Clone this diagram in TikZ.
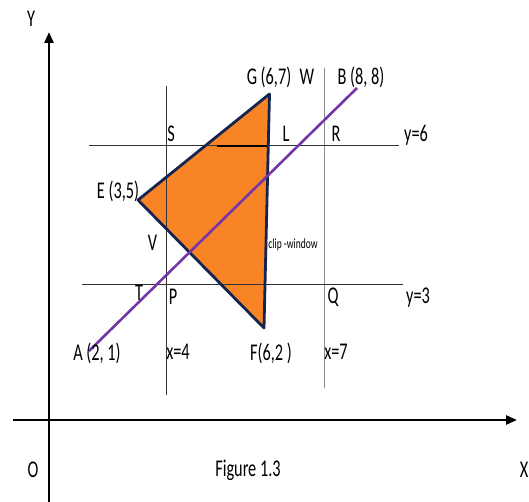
\documentclass[tikz,border=0pt]{standalone}
\usepackage{fontspec}
\setmainfont{Carlito}[FakeStretch=0.68]
\usetikzlibrary{arrows.meta}
\definecolor{triorange}{HTML}{F98425}
\definecolor{trinavy}{HTML}{15244F}
\definecolor{linepurple}{HTML}{7436A8}
\definecolor{lightgray}{HTML}{8C8C8C}
\tikzset{
  x=1pt, y=-1pt,
  axis/.style={line width=2.6pt, -{Triangle[length=11pt,width=9pt]}},
  gridline/.style={line width=1pt, black!80},
  lbl/.style={font=\fontsize{24}{24}\selectfont, inner sep=0pt},
  small/.style={font=\fontsize{14}{14}\selectfont, inner sep=0pt},
}
\begin{document}
\begin{tikzpicture}
\useasboundingbox (0,0) rectangle (529,502);
% axes
\coordinate (yb) at (49,502);
\coordinate (yt) at (49,32);
\coordinate (xl) at (13,420);
\coordinate (xr) at (517,420);
\draw[axis] (yb) -- (yt);
\draw[axis] (xl) -- (xr);
% window lines
\coordinate (x4t) at (166,86);  \coordinate (x4b) at (166,395);
\coordinate (x7t) at (324,68);  \coordinate (x7b) at (324,388);
\coordinate (y6l) at (89,146);  \coordinate (y6r) at (399,146);
\coordinate (y3l) at (82,284);  \coordinate (y3r) at (403,284);
% triangle
\coordinate (G) at (269.5,94);
\coordinate (E) at (138,200);
\coordinate (F) at (264,328);
\fill[triorange] (G) -- (E) -- (F) -- cycle;
\draw[gridline] (x4t) -- (x4b);
\draw[line width=1pt, lightgray] (x7t) -- (x7b);
\draw[gridline] (y6l) -- (y6r);
\draw[gridline] (y3l) -- (y3r);
\coordinate (Ls) at (217,146);
\coordinate (Le) at (268.5,146);
\draw[line width=2pt, black] (Ls) -- (Le);
\draw[trinavy, line width=2.8pt, line join=round] (G) -- (E) -- (F) -- cycle;
% line AB
\coordinate (A) at (89,351);
\coordinate (B) at (357,88);
\draw[linepurple, line width=2.6pt] (A) -- (B);
% labels
\node[lbl] (lY) at (31,19) {Y};
\node[lbl] (lG) at (269,77) {G (6,7)};
\node[lbl] (lW) at (307,77) {W};
\node[lbl] (lB) at (361,77) {B (8, 8)};
\node[lbl] (lS) at (171,134) {S};
\node[lbl] (lL) at (286,134) {L};
\node[lbl] (lR) at (336,134) {R};
\node[lbl] (ly6) at (416,135) {y=6};
\node[lbl] (lE) at (118,191) {E (3,5)};
\node[lbl] (lV) at (152.5,243) {V};
\node[small] (lclip) at (293,245) {clip -window};
\node[lbl] (lT) at (139,293) {T};
\node[lbl] (lP) at (173,297) {P};
\node[lbl] (lQ) at (333,297) {Q};
\node[lbl] (ly3) at (418,298) {y=3};
\node[lbl] (lA) at (97,353) {A (2, 1)};
\node[lbl] (lx4) at (178,352) {x=4};
\node[lbl] (lF) at (271,353) {F(6,2 )};
\node[lbl] (lx7) at (336,352) {x=7};
\node[lbl] (lO) at (33,470) {O};
\node[lbl] (lfig) at (248,470) {Figure 1.3};
\node[lbl] (lX) at (524,470) {X};
\end{tikzpicture}
\end{document}
